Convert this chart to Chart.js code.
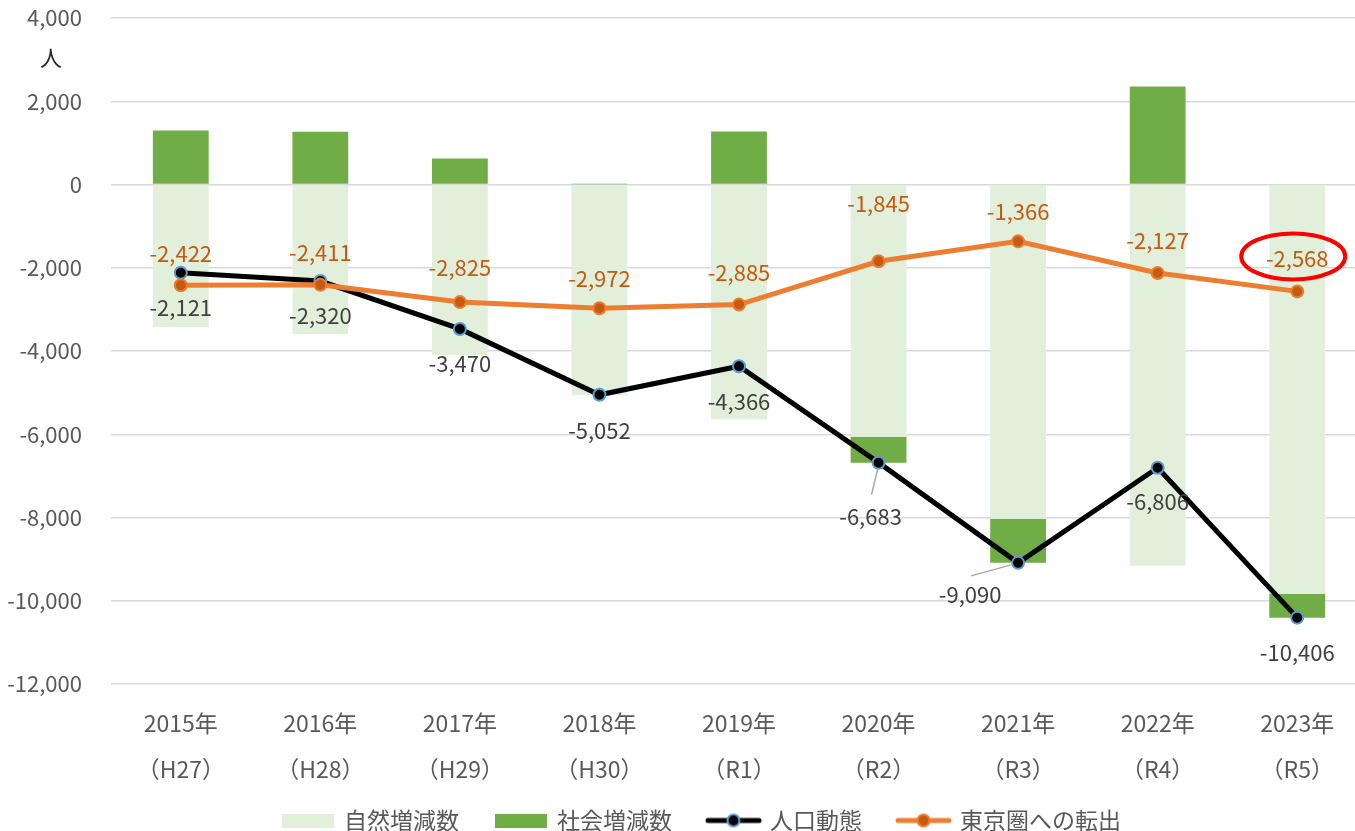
<!DOCTYPE html>
<html lang="ja">
<head>
<meta charset="utf-8">
<script src="https://cdn.jsdelivr.net/npm/chart.js@4.4.1/dist/chart.umd.min.js"></script>
<style>
  html, body { margin: 0; padding: 0; overflow: hidden; background: #fff; }
  canvas { display: block; }
</style>
</head>
<body>
<canvas id="chart" width="1367" height="842"></canvas>
<script>
const years = ['2015年', '2016年', '2017年', '2018年', '2019年', '2020年', '2021年', '2022年', '2023年'];
const eras = ['（H27）', '（H28）', '（H29）', '（H30）', '（R1）', '（R2）', '（R3）', '（R4）', '（R5）'];

const natural = [-3421, -3590, -4094, -5060, -5640, -6060, -8030, -9160, -9830];
const social = [1300, 1270, 624, 8, 1274, -623, -1060, 2354, -576];
const population = [-2121, -2320, -3470, -5052, -4366, -6683, -9090, -6806, -10406];
const toTokyo = [-2422, -2411, -2825, -2972, -2885, -1845, -1366, -2127, -2568];

const yMin = -12000, yMax = 4000, yStep = 2000;

const FONT = '"Noto Sans CJK JP", "Noto Sans", sans-serif';
Chart.defaults.font.family = FONT;

// label placement relative to each point (px)
const popOffsets = [[0, 35], [0, 35], [0, 35], [0, 36], [0, 35], [-8, 54], [-48, 32], [0, 34], [0, 35]];
const tokyoOffsets = [[0, -32], [0, -32], [0, -34], [0, -30], [0, -32], [0, -58], [0, -30], [0, -32], [0, -33]];
const leaders = {5: [[-7, 32], [-1, 7]], 6: [[-47, 13], [-7, 2]]};

function legendBox(color) {
  const c = document.createElement('canvas');
  c.width = 52; c.height = 14;
  const g = c.getContext('2d');
  g.fillStyle = color;
  g.fillRect(0, 0, 52, 14);
  return c;
}
function legendLine(line, fill, edge) {
  const c = document.createElement('canvas');
  c.width = 57; c.height = 18;
  const g = c.getContext('2d');
  g.strokeStyle = line; g.lineWidth = 5; g.lineCap = 'round';
  g.beginPath(); g.moveTo(3, 9); g.lineTo(54, 9); g.stroke();
  g.beginPath(); g.arc(28.5, 9, 6, 0, Math.PI * 2);
  g.fillStyle = fill; g.fill();
  g.lineWidth = 2; g.strokeStyle = edge; g.stroke();
  return c;
}
const legendImgs = [
  legendBox('#E2EFDA'),
  legendBox('#70AD47'),
  legendLine('#000000', '#000000', '#5B9BD5'),
  legendLine('#ED7D31', '#C55A11', '#ED7D31')
];

const labelPlugin = {
  id: 'pointLabels',
  afterLayout(chart) {
    // nudge the legend row to where the original sits
    chart.legend.left += 24;
    chart.legend.right += 24;
  },
  afterDatasetsDraw(chart) {
    const ctx = chart.ctx;
    ctx.save();
    ctx.font = '22px ' + FONT;
    ctx.textAlign = 'center';
    ctx.textBaseline = 'middle';
    const fmt = v => v.toLocaleString('en-US');

    const popMeta = chart.getDatasetMeta(2);
    popMeta.data.forEach((pt, i) => {
      const [dx, dy] = popOffsets[i];
      if (leaders[i]) {
        const [a, b] = leaders[i];
        ctx.strokeStyle = '#A6A6A6';
        ctx.lineWidth = 1.5;
        ctx.beginPath();
        ctx.moveTo(pt.x + a[0], pt.y + a[1]);
        ctx.lineTo(pt.x + b[0], pt.y + b[1]);
        ctx.stroke();
      }
      ctx.fillStyle = '#404040';
      ctx.fillText(fmt(population[i]), pt.x + dx, pt.y + dy);
    });

    const tkMeta = chart.getDatasetMeta(3);
    tkMeta.data.forEach((pt, i) => {
      const [dx, dy] = tokyoOffsets[i];
      ctx.fillStyle = '#C55A11';
      ctx.fillText(fmt(toTokyo[i]), pt.x + dx, pt.y + dy);
    });

    // highlight of the latest value
    const last = tkMeta.data[tkMeta.data.length - 1];
    ctx.strokeStyle = '#FF0000';
    ctx.lineWidth = 4;
    ctx.beginPath();
    ctx.ellipse(last.x - 4, last.y - 35, 52, 23, 0, 0, Math.PI * 2);
    ctx.stroke();

    // unit
    ctx.fillStyle = '#262626';
    ctx.font = '22px ' + FONT;
    ctx.fillText('人', 51, 58);
    ctx.restore();
  }
};

const data = {
  labels: years.map((y, i) => [y, eras[i]]),
  datasets: [
    {
      type: 'bar',
      label: '自然増減数',
      data: natural,
      backgroundColor: '#E2EFDA',
      stack: 'bars',
      order: 2,
      barPercentage: 0.4,
      categoryPercentage: 1
    },
    {
      type: 'bar',
      label: '社会増減数',
      data: social,
      backgroundColor: '#70AD47',
      stack: 'bars',
      order: 2,
      barPercentage: 0.4,
      categoryPercentage: 1
    },
    {
      type: 'line',
      label: '人口動態',
      data: population,
      borderColor: '#000000',
      borderWidth: 5,
      pointRadius: 6,
      pointBorderWidth: 2,
      pointBackgroundColor: '#000000',
      pointBorderColor: '#5B9BD5',
      stack: 'pop',
      order: 1
    },
    {
      type: 'line',
      label: '東京圏への転出',
      data: toTokyo,
      borderColor: '#ED7D31',
      borderWidth: 5,
      pointRadius: 6,
      pointBorderWidth: 2,
      pointBackgroundColor: '#C55A11',
      pointBorderColor: '#ED7D31',
      stack: 'tokyo',
      order: 0
    }
  ]
};

const config = {
  data: data,
  options: {
    responsive: false,
    animation: false,
    layout: {autoPadding: false, padding: {left: 0, right: 0, top: 18, bottom: 0}},
    plugins: {
      tooltip: {enabled: false},
      legend: {
        position: 'bottom',
        labels: {
          color: '#595959',
          font: {size: 23},
          usePointStyle: true,
          pointStyleWidth: 50,
          padding: 25,
          sort: (a, b) => a.datasetIndex - b.datasetIndex,
          generateLabels(chart) {
            const items = Chart.defaults.plugins.legend.labels.generateLabels(chart);
            items.forEach(it => {
              it.pointStyle = legendImgs[it.datasetIndex];
              it.text = it.text + '\u2002';
            });
            return items;
          }
        }
      }
    },
    scales: {
      x: {
        stacked: true,
        grid: {display: false},
        border: {display: false},
        ticks: {
          color: '#595959',
          font: {size: 23, lineHeight: 2},
          padding: 8,
          maxRotation: 0
        },
        afterFit(scale) {
          scale.height = 100;
          scale.paddingLeft = 0;
          scale.paddingRight = 0;
        }
      },
      y: {
        stacked: true,
        min: yMin,
        max: yMax,
        border: {display: false},
        grid: {color: '#D9D9D9', lineWidth: 1.5, drawTicks: false},
        ticks: {
          stepSize: yStep,
          color: '#595959',
          font: {size: 22},
          padding: 29,
          callback: v => v.toLocaleString('en-US')
        },
        afterFit(scale) {
          scale.width = 111;
          scale.paddingTop = 0;
          scale.paddingBottom = 0;
        }
      }
    }
  },
  plugins: [labelPlugin]
};

const chart = new Chart(document.getElementById('chart'), config);
</script>
</body>
</html>
